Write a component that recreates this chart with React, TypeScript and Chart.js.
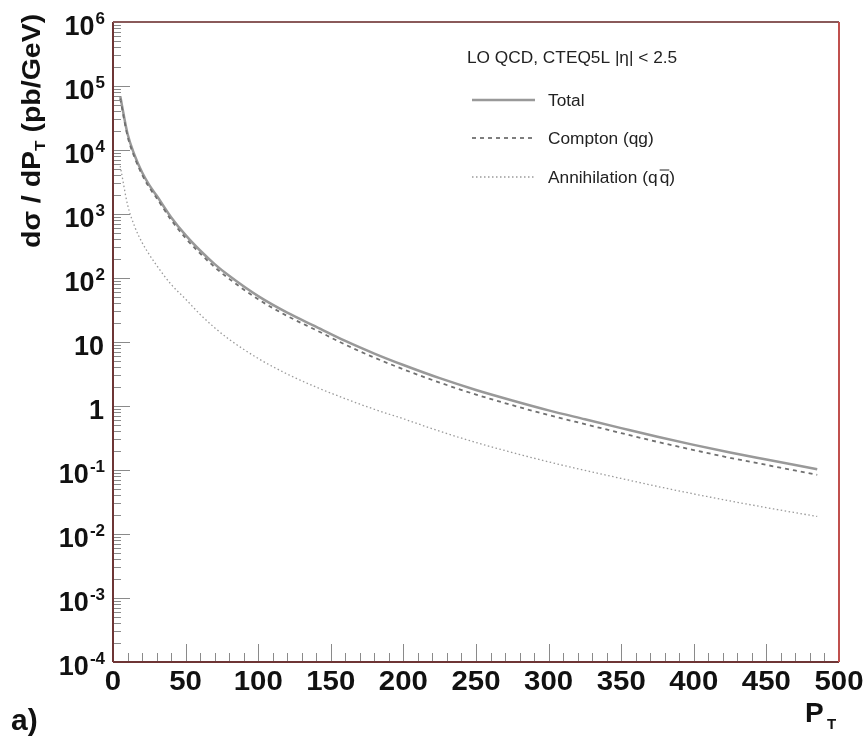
import React, { useEffect, useRef } from "react";
import { Chart, registerables } from "chart.js";

Chart.register(...registerables);

// ---- data ----
const pT = [5, 10, 15, 20, 25, 30, 40, 50, 60, 70, 80, 100, 120, 140, 160, 180, 200, 225, 250, 275, 300, 325, 350, 375, 400, 425, 450, 485];
const total = [69200, 17900, 8130, 4480, 2820, 1940, 891, 467, 269, 165, 108, 52, 28.7, 17.3, 10.4, 6.6, 4.37, 2.72, 1.78, 1.22, 0.855, 0.62, 0.451, 0.33, 0.247, 0.188, 0.146, 0.103];
const compton = [63600, 16500, 7500, 4120, 2590, 1780, 811, 420, 242, 148, 97, 46.5, 25.5, 15.3, 9.1, 5.7, 3.74, 2.32, 1.51, 1.03, 0.721, 0.521, 0.377, 0.275, 0.205, 0.155, 0.12, 0.084];
const annihilation = [5620, 1406, 631, 359, 232, 158, 79.6, 46.8, 27, 16.7, 11, 5.53, 3.16, 1.97, 1.3, 0.889, 0.631, 0.403, 0.269, 0.1875, 0.134, 0.0986, 0.0738, 0.0553, 0.0423, 0.0329, 0.0258, 0.0188];

const xTickValues = [0, 50, 100, 150, 200, 250, 300, 350, 400, 450, 500];
const yExponents = [6, 5, 4, 3, 2, 1, 0, -1, -2, -3, -4];
const legendHeader = "LO QCD, CTEQ5L |\u03b7| < 2.5";
const seriesNames = ["Total", "Compton (qg)", "Annihilation (q"];
const xTitle = "P";
const yTitleParts = ["d\u03c3 / dP", "T", " (pb/GeV)"];
const panelLabel = "a)";

const FONT = "'Liberation Sans', Arial, Helvetica, sans-serif";

const decor = {
  id: "decor",
  afterDraw(chart: any) {
    const { ctx, chartArea: a, scales } = chart;
    const x = scales.x;
    const y = scales.y;
    ctx.save();

    const line = (x1: number, y1: number, x2: number, y2: number) => {
      ctx.beginPath();
      ctx.moveTo(x1, y1);
      ctx.lineTo(x2, y2);
      ctx.stroke();
    };

    // ticks
    ctx.strokeStyle = "#8a8a8a";
    ctx.lineWidth = 1;
    for (let e = -4; e < 6; e++) {
      for (let m = 2; m <= 9; m++) {
        const py = Math.round(y.getPixelForValue(m * Math.pow(10, e))) + 0.5;
        line(a.left, py, a.left + 8, py);
      }
    }
    yExponents.forEach((e) => {
      const py = Math.round(y.getPixelForValue(Math.pow(10, e))) + 0.5;
      line(a.left, py, a.left + 17, py);
    });
    for (let v = 0; v <= 490; v += 10) {
      const px = Math.round(x.getPixelForValue(v)) + 0.5;
      const len = v % 50 === 0 ? 18 : 9;
      line(px, a.bottom, px, a.bottom - len);
    }

    // frame
    ctx.lineWidth = 2;
    ctx.strokeStyle = "#6e3535";
    line(a.left, a.top, a.left, a.bottom);
    line(a.left, a.bottom, a.right, a.bottom);
    ctx.strokeStyle = "#8a5a5a";
    line(a.left, a.top, a.right, a.top);
    ctx.strokeStyle = "#c0504d";
    line(a.right, a.top, a.right, a.bottom);

    // y tick labels
    ctx.fillStyle = "#111";
    ctx.textBaseline = "alphabetic";
    const baseFont = `bold 27px ${FONT}`;
    const expFont = `bold 17px ${FONT}`;
    const rightEdge = a.left - 9;
    yExponents.forEach((e) => {
      const py = y.getPixelForValue(Math.pow(10, e));
      if (e === 0 || e === 1) {
        ctx.font = baseFont;
        ctx.textAlign = "right";
        ctx.fillText(e === 0 ? "1" : "10", rightEdge, py + 13);
        return;
      }
      const expStr = String(e);
      ctx.font = expFont;
      const ew = ctx.measureText(expStr).width;
      ctx.textAlign = "left";
      ctx.fillText(expStr, rightEdge - ew + 1, py + 2);
      ctx.font = baseFont;
      ctx.textAlign = "right";
      ctx.fillText("10", rightEdge - ew, py + 13);
    });

    // x tick labels
    ctx.font = `bold 28px ${FONT}`;
    ctx.textAlign = "center";
    xTickValues.forEach((v) => {
      const px = x.getPixelForValue(v);
      ctx.save();
      ctx.translate(px, a.bottom + 28);
      ctx.scale(1.05, 1);
      ctx.fillText(String(v), 0, 0);
      ctx.restore();
    });

    // x title
    ctx.font = `bold 28px ${FONT}`;
    ctx.textAlign = "left";
    ctx.fillText(xTitle, a.right - 34, a.bottom + 60);
    ctx.font = `bold 15px ${FONT}`;
    ctx.fillText("T", a.right - 12, a.bottom + 67);

    // panel label
    ctx.font = `bold 30px ${FONT}`;
    ctx.fillText(panelLabel, 11, a.bottom + 68);

    // y title
    ctx.save();
    ctx.translate(40, 248);
    ctx.rotate(-Math.PI / 2);
    ctx.scale(1.14, 1);
    ctx.textAlign = "left";
    ctx.font = `bold 25px ${FONT}`;
    let cx = 0;
    ctx.fillText(yTitleParts[0], cx, 0);
    cx += ctx.measureText(yTitleParts[0]).width;
    ctx.font = `bold 15px ${FONT}`;
    ctx.fillText(yTitleParts[1], cx, 5);
    cx += ctx.measureText(yTitleParts[1]).width;
    ctx.font = `bold 25px ${FONT}`;
    ctx.fillText(yTitleParts[2], cx, 0);
    ctx.restore();

    // legend
    ctx.font = `16px ${FONT}`;
    ctx.fillStyle = "#222";
    ctx.textAlign = "left";
    ctx.save();
    ctx.translate(467, 63);
    ctx.scale(1.08, 1);
    ctx.fillText(legendHeader, 0, 0);
    ctx.restore();

    const ds = chart.data.datasets;
    const order = [2, 1, 0];
    const rowsY = [100, 138, 177];
    order.forEach((di, i) => {
      const d = ds[di];
      const ly = rowsY[i];
      ctx.save();
      ctx.strokeStyle = d.borderColor;
      ctx.lineWidth = d.borderWidth;
      ctx.setLineDash(d.borderDash || []);
      line(472, ly, 535, ly);
      ctx.restore();
      ctx.save();
      ctx.translate(548, ly + 6);
      ctx.scale(1.08, 1);
      ctx.fillText(seriesNames[i], 0, 0);
      if (i === 2) {
        const w = ctx.measureText(seriesNames[i]).width;
        const qw = ctx.measureText("q").width;
        ctx.fillText("q)", w + 2, 0);
        ctx.lineWidth = 1;
        ctx.strokeStyle = "#222";
        line(w + 2, -13, w + 2 + qw, -13);
      }
      ctx.restore();
    });

    ctx.restore();
  },
};

export default function App() {
  const ref = useRef<HTMLCanvasElement | null>(null);
  useEffect(() => {
    if (!ref.current) return;
    const mk = (arr: number[]) => pT.map((v, i) => ({ x: v, y: arr[i] }));
    const zeroW = (s: any) => { s.width = 0; };
    const zeroH = (s: any) => { s.height = 0; };
    const chart = new Chart(ref.current, {
      type: "line",
      data: {
        datasets: [
          {
            label: "Annihilation",
            data: mk(annihilation),
            borderColor: "#9a9a9a",
            borderWidth: 1.3,
            borderDash: [1.5, 2.5],
            pointRadius: 0,
            cubicInterpolationMode: "monotone",
            fill: false,
          },
          {
            label: "Compton",
            data: mk(compton),
            borderColor: "#707070",
            borderWidth: 1.8,
            borderDash: [4, 4],
            pointRadius: 0,
            cubicInterpolationMode: "monotone",
            fill: false,
          },
          {
            label: "Total",
            data: mk(total),
            borderColor: "#999999",
            borderWidth: 2.5,
            pointRadius: 0,
            cubicInterpolationMode: "monotone",
            fill: false,
          },
        ],
      },
      options: {
        responsive: false,
        animation: false,
        devicePixelRatio: 1,
        layout: { padding: { left: 113, right: 26, top: 22, bottom: 84 } },
        plugins: { legend: { display: false }, tooltip: { enabled: false } },
        scales: {
          x: {
            type: "linear",
            min: 0,
            max: 500,
            grid: { display: false },
            border: { display: false },
            ticks: { display: false },
            afterFit: zeroH,
          },
          y: {
            type: "logarithmic",
            min: 1e-4,
            max: 1e6,
            grid: { display: false },
            border: { display: false },
            ticks: { display: false },
            afterFit: zeroW,
          },
        },
      },
      plugins: [decor],
    } as any);
    return () => chart.destroy();
  }, []);
  return (
    <div style={{ position: "fixed", left: 0, top: 0, width: 865, height: 746, background: "#fff" }}>
      <canvas ref={ref} width={865} height={746} style={{ display: "block" }} />
    </div>
  );
}
